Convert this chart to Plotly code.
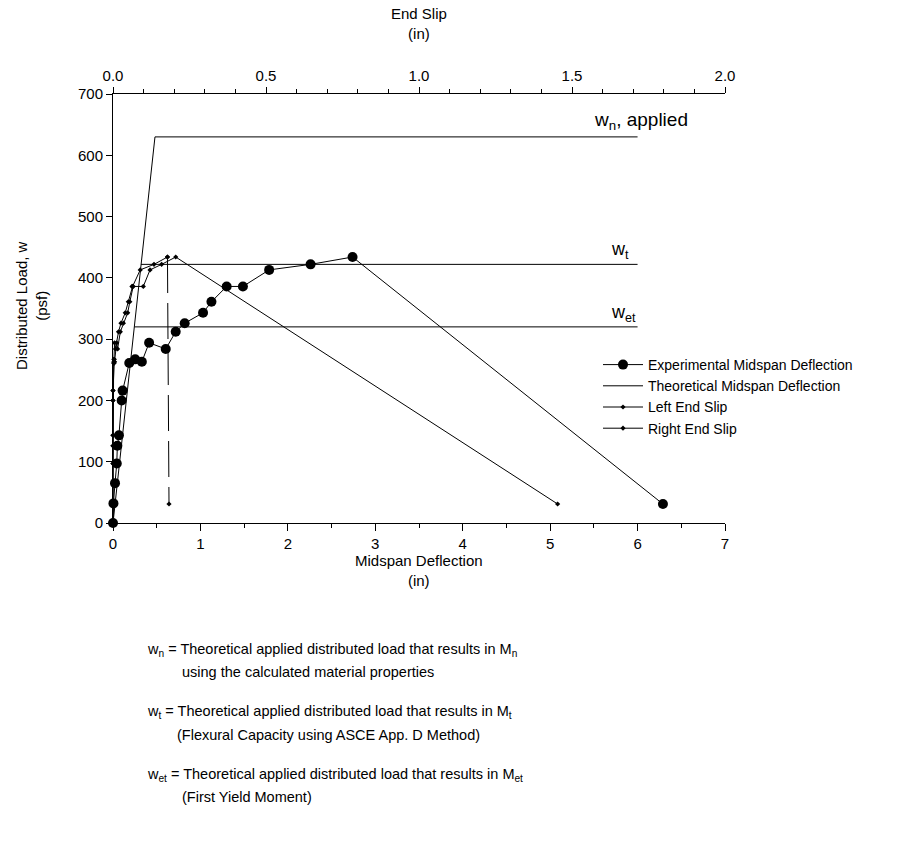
import plotly.graph_objects as go

# ---------------- data ----------------
load_psf = [0, 32, 65, 97, 126, 143, 200, 216, 261, 267, 263, 294, 284,
            312, 326, 343, 361, 386, 386, 413, 422, 434, 31]
midspan_exp = [0, 0.005, 0.023, 0.043, 0.05, 0.068, 0.099, 0.11, 0.186, 0.254,
               0.33, 0.413, 0.603, 0.717, 0.82, 1.03, 1.126, 1.30, 1.486,
               1.786, 2.26, 2.74, 6.29]
slip_left = [0, 0, 0, 0, 0, 0, 0, 0, 0.002, 0.003, 0.003, 0.005, 0.008,
             0.018, 0.026, 0.040, 0.050, 0.062, 0.064, 0.089, 0.134, 0.178, 0.183]
slip_right = [0, 0, 0, 0, 0, 0, 0, 0, 0.004, 0.004, 0.005, 0.012, 0.015,
              0.024, 0.034, 0.048, 0.055, 0.066, 0.099, 0.121, 0.159, 0.205, 1.453]

theory_defl = [0, 0.48, 6.0]
theory_load = [0, 630, 630]

level_loads = [422, 320]          # w_t, w_et
level_start = [0.32, 0.244]
level_end = 6.0

x_ticks = [0, 1, 2, 3, 4, 5, 6, 7]
y_ticks = [0, 100, 200, 300, 400, 500, 600, 700]
slip_ticks = [0.0, 0.5, 1.0, 1.5, 2.0]

# ---------------- figure ----------------
W, H = 898, 863
ML, MR, MT, MB = 113, 173, 94, 340
PW, PH = W - ML - MR, H - MT - MB
FONT = "Liberation Sans, Arial, sans-serif"


def px(x):
    return (x - ML) / PW


def py(y):
    return (H - MB - y) / PH


fig = go.Figure()

fig.add_trace(go.Scatter(
    x=midspan_exp, y=load_psf, mode="lines+markers",
    name="Experimental Midspan Deflection",
    line=dict(color="black", width=1),
    marker=dict(symbol="circle", size=10, color="black"),
    cliponaxis=False))

fig.add_trace(go.Scatter(
    x=theory_defl, y=theory_load, mode="lines",
    name="Theoretical Midspan Deflection",
    line=dict(color="black", width=1), cliponaxis=False))

for lv, xs in zip(level_loads, level_start):
    fig.add_trace(go.Scatter(
        x=[xs, level_end], y=[lv, lv], mode="lines", showlegend=False,
        line=dict(color="black", width=1), hoverinfo="skip"))

fig.add_trace(go.Scatter(
    x=slip_left[:-1], y=load_psf[:-1], xaxis="x2", mode="lines+markers",
    name="Left End Slip",
    line=dict(color="black", width=1),
    marker=dict(symbol="diamond", size=4, color="black"),
    cliponaxis=False))

fig.add_trace(go.Scatter(
    x=slip_left[-2:], y=load_psf[-2:], xaxis="x2", mode="lines+markers",
    showlegend=False,
    line=dict(color="black", width=1, dash="36px,10px"),
    marker=dict(symbol="diamond", size=4, color="black"),
    cliponaxis=False))

fig.add_trace(go.Scatter(
    x=slip_right, y=load_psf, xaxis="x2", mode="lines+markers",
    name="Right End Slip",
    line=dict(color="black", width=1),
    marker=dict(symbol="diamond", size=4, color="black"),
    cliponaxis=False))

axis_common = dict(showgrid=False, zeroline=False, showline=True,
                   linecolor="black", linewidth=1, ticks="outside",
                   tickcolor="black", tickwidth=1,
                   tickfont=dict(family=FONT, size=15, color="black"))

fig.update_layout(
    width=W, height=H,
    margin=dict(l=ML, r=MR, t=MT, b=MB, pad=0),
    paper_bgcolor="white", plot_bgcolor="white",
    font=dict(family=FONT, size=15, color="black"),
    xaxis=dict(range=[0, 7], tickvals=x_ticks, ticklen=7,
               minor=dict(dtick=0.5, tick0=0, ticks="outside", ticklen=4,
                          tickcolor="black", showgrid=False),
               **axis_common),
    xaxis2=dict(range=[0, 2.0], overlaying="x", side="top", anchor="y",
                tickvals=slip_ticks, tickformat=".1f", ticklen=6,
                minor=dict(dtick=0.1, tick0=0, ticks="outside", ticklen=4,
                           tickcolor="black", showgrid=False),
                **axis_common),
    yaxis=dict(range=[0, 700], tickvals=y_ticks, ticklen=6, **axis_common),
    legend=dict(x=px(598), y=py(349), xanchor="left", yanchor="top",
                bgcolor="rgba(0,0,0,0)", borderwidth=0,
                font=dict(family=FONT, size=14, color="black"),
                itemwidth=40, tracegroupgap=0),
    showlegend=True,
)

ann = []


def add_text(text, x, y, size=15, xanchor="center", angle=0):
    ann.append(dict(text=text, x=px(x), y=py(y), xref="paper", yref="paper",
                    xanchor=xanchor, yanchor="middle", showarrow=False,
                    textangle=angle, align="center" if xanchor == "center" else "left",
                    font=dict(family=FONT, size=size, color="black")))


add_text("Distributed Load, w<br>(psf)", 31, 306, angle=-90)
add_text("Midspan Deflection<br>(in)", 419, 570)
add_text("End Slip<br>(in)", 419, 24)
add_text("w<sub>n</sub>, applied", 592, 121, size=19, xanchor="left")
add_text("w<sub>t</sub>", 609, 250, size=18, xanchor="left")
add_text("w<sub>et</sub>", 609, 313, size=18, xanchor="left")

notes = [
    ("w<sub>n</sub> = Theoretical applied distributed load that results in M<sub>n</sub>", 145, 650),
    ("using the calculated material properties", 180, 672),
    ("w<sub>t</sub> = Theoretical applied distributed load that results in M<sub>t</sub>", 145, 712),
    ("(Flexural Capacity using ASCE App. D Method)", 175, 735),
    ("w<sub>et</sub> = Theoretical applied distributed load that results in M<sub>et</sub>", 145, 775),
    ("(First Yield Moment)", 180, 797),
]
for t, x, y in notes:
    add_text(t, x, y, size=14.5, xanchor="left")

fig.update_layout(annotations=ann)

fig.write_html("out.html",
               config={"displayModeBar": False},
               post_script="document.body.style.margin='0px';")
